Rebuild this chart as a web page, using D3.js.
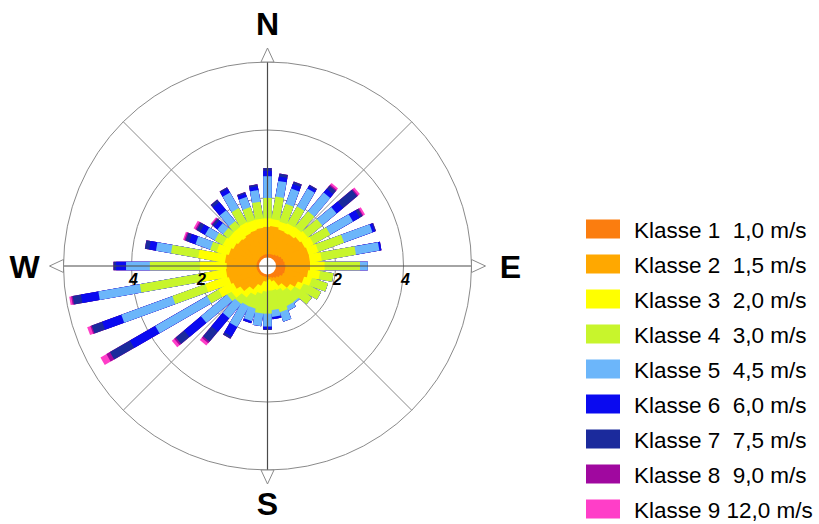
<!DOCTYPE html>
<html>
<head>
<meta charset="utf-8">
<script src="https://cdn.jsdelivr.net/npm/d3@7"></script>
<style>
  body { margin: 0; background: #fff; }
  text { font-family: "Liberation Sans", Arial, sans-serif; }
</style>
</head>
<body>
<div id="chart"></div>
<script>
/// DATA (frequency per direction sector, one array per speed class)
var directions = d3.range(0, 360, 10); // 0 = N, clockwise
var klassen = ["Klasse 1", "Klasse 2", "Klasse 3", "Klasse 4", "Klasse 5",
               "Klasse 6", "Klasse 7", "Klasse 8", "Klasse 9"];
var speeds = [1.0, 1.5, 2.0, 3.0, 4.5, 6.0, 7.5, 9.0, 12.0];

var klasse1 = [.08,.08,.08,.09,.10,.13,.17,.21,.23,.25,.27,.25,.20,.15,.11,.08,.06,.05,
               .05,.05,.05,.05,.05,.05,.05,.05,.05,.05,.05,.05,.05,.05,.05,.05,.06,.07];
var klasse2 = [.82,.84,.79,.76,.77,.80,.80,.79,.77,.75,.68,.62,.55,.45,.29,.12,.07,.05,
               .05,.08,.15,.30,.50,.70,.82,.88,.92,.90,.95,.88,.82,.78,.75,.78,.79,.81];
var klasse3 = [.25,.21,.23,.28,.28,.27,.28,.30,.35,.43,.35,.23,.18,.15,.20,.30,.34,.35,
               .37,.37,.37,.32,.30,.30,.48,.72,.75,.79,.80,.37,.33,.32,.35,.34,.30,.27];
var klasse4 = [.60,.67,.55,.57,.60,.55,.56,.80,1.02,1.04,.40,.50,.57,.60,.45,.55,.68,.60,
               .68,.65,.48,.38,.25,.15,.38,1.03,1.82,1.47,.81,.20,.27,.20,.22,.48,.40,.50];
var klasse5 = [.64,.47,.48,.61,.72,.55,.77,.89,.70,.23,0,0,0,0,.05,.15,.30,.20,
               .38,.38,.38,.70,.55,1.00,1.76,1.60,1.24,.70,.45,.46,.33,.22,.42,.52,.32,.35];
var klasse6 = [.16,.13,.14,.08,.14,.25,.23,.08,.06,0,0,0,0,0,0,0,0,.07,
               .07,0,.07,.32,.52,.65,.86,.60,.52,.29,.20,.20,.17,.13,.31,.13,.10,.11];
var klasse7 = [.08,.09,.08,.05,.12,.54,.09,.03,0,0,0,0,0,0,0,0,0,0,
               .03,0,0,.08,.38,.32,.68,.33,.25,.08,.13,.11,.12,.07,.10,.05,.05,.06];
var klasse8 = [0,0,0,0,.04,.04,.03,0,0,0,0,0,0,0,0,0,0,0,
               0,0,0,0,.06,.06,.12,.04,.04,0,0,.04,.04,.03,0,0,0,0];
var klasse9 = [0,0,0,0,.06,.06,.06,0,0,0,0,0,0,0,0,0,0,0,
               0,0,0,0,.09,.09,.20,.10,.06,0,0,.04,.06,.03,0,0,0,0];

var rings = [2, 4, 6];
var tickLabels = [2, 4];
var compass = [{label: "N", angle: 0}, {label: "E", angle: 90},
               {label: "S", angle: 180}, {label: "W", angle: 270}];

/// PRESENTATION
var width = 819, height = 524;
var cx = 267.5, cy = 266;
var calm = 0.25;      // white hole in the middle (scale units)
var barWidth = 8.5;   // bars keep a constant pixel width
var colors = ["#fb7d0f", "#ffa800", "#ffff00", "#c8f52c", "#6cb6fa",
              "#0a0af0", "#1b2a9c", "#a0089f", "#ff3ec8"];

var r = d3.scaleLinear().domain([0, 6]).range([0, 204]);
var deFormat = d3.formatLocale({decimal: ",", thousands: ".", grouping: [3], currency: ["", "€"]})
    .format(".1f");

// table for the stack layout
var series = [klasse1, klasse2, klasse3, klasse4, klasse5, klasse6, klasse7, klasse8, klasse9];
var rows = directions.map(function(d, i) {
  var row = {dir: d};
  klassen.forEach(function(k, j) { row[k] = series[j][i]; });
  return row;
});
var stacked = d3.stack().keys(klassen)(rows);

var svg = d3.select("#chart").append("svg")
    .attr("width", width).attr("height", height);

var rose = svg.append("g").attr("transform", "translate(" + cx + "," + cy + ")");

// GRID (below bars)
rose.selectAll(".ring").data(rings).enter().append("circle")
    .attr("class", "ring")
    .attr("r", function(d) { return r(d); })
    .attr("fill", "none").attr("stroke", "#8a8a8a").attr("stroke-width", 1);

rose.selectAll(".diag").data([45, 135, 225, 315]).enter().append("line")
    .attr("class", "diag")
    .attr("x1", 0).attr("y1", 0)
    .attr("x2", function(d) { return r(6) * Math.sin(d * Math.PI / 180); })
    .attr("y2", function(d) { return -r(6) * Math.cos(d * Math.PI / 180); })
    .attr("stroke", "#8a8a8a").attr("stroke-width", 1);

// BARS: outer classes first so the lower classes sit on top near the centre
var layers = rose.selectAll(".layer").data(stacked.slice().reverse()).enter().append("g")
    .attr("class", "layer")
    .attr("fill", function(d) { return colors[d.index]; });

layers.selectAll("rect").data(function(d) { return d; }).enter().append("rect")
    .attr("transform", function(d) { return "rotate(" + d.data.dir + ")"; })
    .attr("x", -barWidth / 2)
    .attr("y", function(d) { return -r(calm + d[1]); })
    .attr("width", barWidth)
    .attr("height", function(d) { return r(calm + d[1]); });

// calm hole
rose.append("circle").attr("r", r(calm)).attr("fill", "#fff");

// MAIN AXES (on top)
compass.forEach(function(c) {
  var a = c.angle * Math.PI / 180;
  rose.append("line")
      .attr("x1", 0).attr("y1", 0)
      .attr("x2", r(6) * Math.sin(a)).attr("y2", -r(6) * Math.cos(a))
      .attr("stroke", "#4a4a4a").attr("stroke-width", 1.2);
});

// arrow heads on the outer ring
rose.selectAll(".arrow").data(compass).enter().append("path")
    .attr("class", "arrow")
    .attr("transform", function(d) { return "rotate(" + d.angle + ")"; })
    .attr("d", "M-6.5," + (-r(6)) + "L0," + (-r(6) - 14) + "L6.5," + (-r(6)) + "Z")
    .attr("fill", "#fff").attr("stroke", "#8a8a8a").attr("stroke-width", 1);

// letters: S sits a bit closer so it stays inside the frame
rose.selectAll(".compass").data(compass).enter().append("text")
    .attr("class", "compass")
    .attr("x", function(d) { return 243 * Math.sin(d.angle * Math.PI / 180); })
    .attr("y", function(d) { return -(d.label == "S" ? 237 : 243) * Math.cos(d.angle * Math.PI / 180); })
    .attr("dy", "0.36em")
    .attr("text-anchor", "middle")
    .style("font-size", "32px").style("font-weight", "bold")
    .text(function(d) { return d.label; });

// tick labels on both sides of the E-W axis
var tickData = [];
tickLabels.forEach(function(t) { tickData.push({v: t, side: -1}, {v: t, side: 1}); });
rose.selectAll(".tick").data(tickData).enter().append("text")
    .attr("class", "tick")
    .attr("x", function(d) { return d.side * r(d.v) + 2; })
    .attr("y", 19)
    .attr("text-anchor", "middle")
    .style("font-size", "16px").style("font-weight", "bold").style("font-style", "italic")
    .text(function(d) { return d.v; });

// LEGEND
var legend = svg.append("g").attr("transform", "translate(586,219.5)");
var item = legend.selectAll(".item").data(klassen).enter().append("g")
    .attr("class", "item")
    .attr("transform", function(d, i) { return "translate(0," + (i * 35) + ")"; });
item.append("rect")
    .attr("width", 34).attr("height", 19)
    .attr("fill", function(d, i) { return colors[i]; });
item.append("text")
    .attr("x", 48).attr("y", 18)
    .style("font-size", "22.5px").style("white-space", "pre")
    .text(function(d, i) {
      var s = deFormat(speeds[i]);
      return d + (s.length < 4 ? "  " : " ") + s + " m/s";
    });
</script>
</body>
</html>
